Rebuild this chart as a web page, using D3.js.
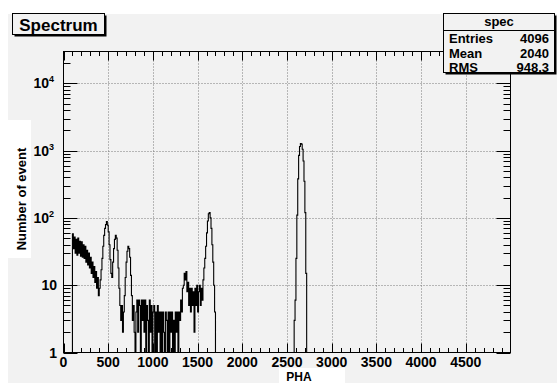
<!DOCTYPE html>
<html>
<head>
<meta charset="utf-8">
<script src="https://cdn.jsdelivr.net/npm/d3@7"></script>
<style>
  body { margin: 0; background: #ffffff; }
  svg { display: block; }
  text { font-family: "Liberation Sans", Arial, Helvetica, sans-serif; font-weight: bold; fill: #000; }
</style>
</head>
<body>
<svg id="chart" width="557" height="383"></svg>
<script>
// ---- histogram contents (bin width in PHA channels) ----
const binWidth = 10;
const lowStart = 100;
const lowCounts = [
  58, 35, 52, 30, 48, 28, 50, 30, 45, 27, 44, 26, 40, 25, 38, 22, 33, 20, 30, 18,
  26, 15, 22, 13, 19, 11, 16, 9, 13, 7, 9, 12, 17, 25, 38, 55, 70, 80, 88, 78,
  62, 40, 24, 15, 13, 22, 35, 48, 55, 50, 33, 18, 9, 5, 3, 5, 2, 4, 7, 13,
  22, 32, 38, 35, 26, 14, 7, 3, 5, 2, 0, 4, 6, 2, 6, 5, 1, 6, 3, 6,
  2, 6, 0, 5, 3, 1, 6, 2, 5, 0, 4, 5, 1, 4, 0, 5, 2, 4, 0, 4,
  1, 4, 2, 0, 4, 3, 1, 4, 0, 4, 2, 4, 1, 3, 0, 4, 2, 4, 1, 4,
  3, 6, 4, 9, 10, 15, 12, 16, 8, 11, 5, 9, 4, 9, 5, 8, 2, 9, 5, 10,
  4, 8, 10, 5, 9, 6, 12, 18, 25, 38, 60, 90, 115, 120, 100, 70, 40, 22, 10, 4, 1
];
const peakStart = 2580;
const peakCounts = [3, 6, 25, 110, 380, 850, 1150, 1270, 1250, 1050, 700, 350, 120, 15];

// ---- axes ----
const xMin = 0, xMax = 5000;
const yMin = 1, yMax = 29700;
const xTickValues = [0, 500, 1000, 1500, 2000, 2500, 3000, 3500, 4000, 4500];
const yDecades = [1, 10, 100, 1000, 10000];

// ---- texts ----
const titleText = "Spectrum";
const xTitle = "PHA";
const yTitle = "Number of event";
const statsName = "spec";
const statsLabels = ["Entries", "Mean", "RMS"];
const statsValues = ["4096", "2040", "948.3"];

const svg = d3.select("#chart");
const W = 557, H = 383;
const frame = { left: 63.5, right: 510.5, top: 51.5, bottom: 352.5 };
const bg = "#f2f2f2";

// canvas: white margin with the grey pad
svg.append("rect").attr("x", 0).attr("y", 0).attr("width", W).attr("height", H).attr("fill", "#fff");
svg.append("rect").attr("x", 8).attr("y", 14).attr("width", W - 8).attr("height", H - 14).attr("fill", bg);

const x = d3.scaleLinear().domain([xMin, xMax]).range([frame.left, frame.right]);
const y = d3.scaleLog().domain([yMin, yMax]).range([frame.bottom, frame.top]);
// empty bins and bins at the axis minimum sit on the bottom of the frame
const yv = n => (n <= yMin ? y(yMin) : Math.max(y(n), frame.top));

// grid
const grid = svg.append("g").attr("stroke", "#7a7a7a").attr("stroke-width", 1).attr("stroke-dasharray", "1,2");
xTickValues.filter(v => v > xMin).forEach(v => {
  grid.append("line").attr("x1", Math.round(x(v)) + 0.5).attr("x2", Math.round(x(v)) + 0.5)
    .attr("y1", frame.top).attr("y2", frame.bottom);
});
yDecades.filter(v => v > yMin).forEach(v => {
  grid.append("line").attr("x1", frame.left).attr("x2", frame.right)
    .attr("y1", Math.round(y(v)) + 0.5).attr("y2", Math.round(y(v)) + 0.5);
});

// histogram bins over the full range
const bins = [];
for (let b = xMin; b < xMax; b += binWidth) {
  let n = 0;
  const li = (b - lowStart) / binWidth;
  const pi = (b - peakStart) / binWidth;
  if (li >= 0 && li < lowCounts.length) n = lowCounts[li];
  if (pi >= 0 && pi < peakCounts.length) n = peakCounts[pi];
  bins.push({ x0: b, n });
}
const pts = bins.map(d => [x(d.x0), yv(d.n)]);
pts.push([x(xMax), yv(0)]);
const line = d3.line().curve(d3.curveStepAfter);
svg.append("path").attr("d", line(pts)).attr("fill", "none").attr("stroke", "#000").attr("stroke-width", 1.1);

// frame
svg.append("rect").attr("x", frame.left).attr("y", frame.top)
  .attr("width", frame.right - frame.left).attr("height", frame.bottom - frame.top)
  .attr("fill", "none").attr("stroke", "#000").attr("stroke-width", 1);

// ticks (inside the frame, mirrored on opposite sides)
const ticks = svg.append("g").attr("stroke", "#000").attr("stroke-width", 1);
for (let v = xMin; v < xMax; v += 100) {
  const major = v % 500 === 0;
  const L = major ? 9 : 4.5;
  const px = Math.round(x(v)) + 0.5;
  ticks.append("line").attr("x1", px).attr("x2", px).attr("y1", frame.bottom).attr("y2", frame.bottom - L);
  ticks.append("line").attr("x1", px).attr("x2", px).attr("y1", frame.top).attr("y2", frame.top + L);
}
for (let d = 0; d < 5; d++) {
  for (let m = 1; m <= 9; m++) {
    const v = m * Math.pow(10, d);
    if (v > yMax) break;
    const L = m === 1 ? 14 : 7;
    const py = Math.round(y(v)) + 0.5;
    ticks.append("line").attr("x1", frame.left).attr("x2", frame.left + L).attr("y1", py).attr("y2", py);
    ticks.append("line").attr("x1", frame.right).attr("x2", frame.right - L).attr("y1", py).attr("y2", py);
  }
}

// x tick labels
const xl = svg.append("g").attr("font-size", 14);
xTickValues.forEach(v => {
  xl.append("text").attr("x", x(v)).attr("y", 367).attr("text-anchor", "middle").text(v);
});

// y tick labels
yDecades.forEach((v, i) => {
  const t = svg.append("text").attr("font-size", 14).attr("text-anchor", "end")
    .attr("y", y(v) + 5);
  if (i < 2) {
    t.attr("x", 57).text(String(v));
  } else {
    t.attr("x", 54);
    t.append("tspan").text("10");
    t.append("tspan").attr("font-size", 9).attr("dy", -6).text(String(i));
  }
});

// axis titles on white boxes
svg.append("rect").attr("x", 8).attr("y", 120).attr("width", 23).attr("height", 138).attr("fill", "#fff");
svg.append("text").attr("font-size", 13).attr("text-anchor", "middle")
  .attr("transform", "translate(26,199) rotate(-90)").text(yTitle);
svg.append("rect").attr("x", 279).attr("y", 368).attr("width", 66).attr("height", 15).attr("fill", "#fff");
svg.append("text").attr("font-size", 12).attr("text-anchor", "middle").attr("x", 299).attr("y", 381).text(xTitle);

// title box
svg.append("rect").attr("x", 14.5).attr("y", 15.5).attr("width", 92).attr("height", 21).attr("fill", "#000");
svg.append("rect").attr("x", 12.5).attr("y", 13.5).attr("width", 92).attr("height", 21)
  .attr("fill", bg).attr("stroke", "#000").attr("stroke-width", 1);
svg.append("text").attr("font-size", 17).attr("x", 58.5).attr("y", 31).attr("text-anchor", "middle").text(titleText);

// statistics box
const sb = { x: 443.5, y: 13.5, w: 111, h: 59 };
svg.append("rect").attr("x", sb.x + 2).attr("y", sb.y + 2).attr("width", sb.w).attr("height", sb.h).attr("fill", "#000");
svg.append("rect").attr("x", sb.x).attr("y", sb.y).attr("width", sb.w).attr("height", sb.h)
  .attr("fill", bg).attr("stroke", "#000").attr("stroke-width", 1);
svg.append("line").attr("x1", sb.x).attr("x2", sb.x + sb.w).attr("y1", 30.5).attr("y2", 30.5)
  .attr("stroke", "#000").attr("stroke-width", 1);
svg.append("text").attr("font-size", 13).attr("text-anchor", "middle").attr("x", sb.x + sb.w / 2).attr("y", 26).text(statsName);
statsLabels.forEach((lab, i) => {
  const by = 43 + i * 14.7;
  svg.append("text").attr("font-size", 13).attr("x", 449).attr("y", by).text(lab);
  svg.append("text").attr("font-size", 13).attr("text-anchor", "end").attr("x", 549).attr("y", by).text(statsValues[i]);
});
</script>
</body>
</html>
